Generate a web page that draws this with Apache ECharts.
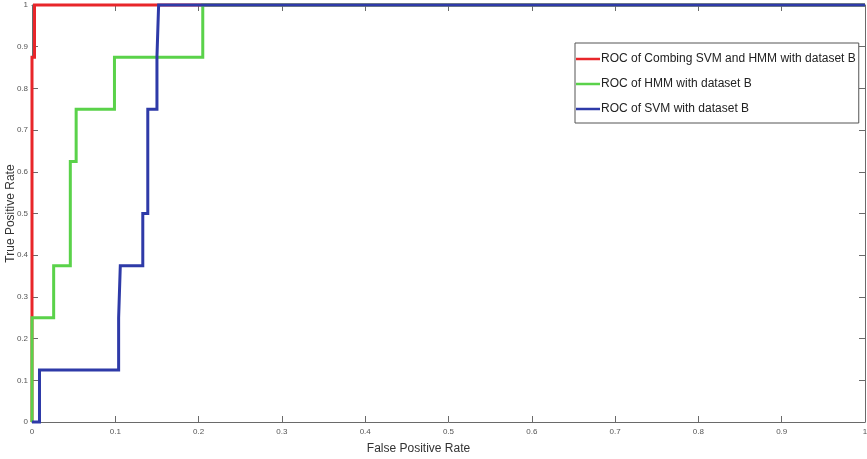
<!DOCTYPE html>
<html>
<head>
<meta charset="utf-8">
<script src="https://cdn.jsdelivr.net/npm/echarts@6/dist/echarts.min.js"></script>
<style>
  html, body { margin: 0; padding: 0; background: #fff; }
  #chart { width: 867px; height: 459px; }
</style>
</head>
<body>
<div id="chart"></div>
<script>
    // ROC curves (false positive rate, true positive rate)
    const seriesNames = [
        'ROC of Combing SVM and HMM with dataset B',
        'ROC of HMM with dataset B',
        'ROC of SVM with dataset B'
    ];
    const fprCombined = [0, 0, 0.003, 0.003, 1];
    const tprCombined = [0, 0.875, 0.875, 1, 1];
    const fprHMM = [0, 0, 0.026, 0.026, 0.046, 0.046, 0.053, 0.053, 0.099, 0.099, 0.205, 0.205, 1];
    const tprHMM = [0, 0.25, 0.25, 0.375, 0.375, 0.625, 0.625, 0.75, 0.75, 0.875, 0.875, 1, 1];
    const fprSVM = [0, 0.009, 0.009, 0.104, 0.104, 0.106, 0.106, 0.133, 0.133, 0.139, 0.139, 0.150, 0.150, 0.152, 0.152, 1];
    const tprSVM = [0, 0, 0.125, 0.125, 0.25, 0.25, 0.375, 0.375, 0.5, 0.5, 0.75, 0.75, 0.875, 0.875, 1, 1];

    const colors = ['#e8262a', '#5ad24a', '#2e3aa8'];

    function pairs(xs, ys) {
        return xs.map((x, i) => [x, ys[i]]);
    }

    const chart = echarts.init(document.getElementById('chart'));

    // common axis look: gray line, short ticks pointing inward
    let baseAxis = {
        type: 'value',
        min: 0,
        max: 1,
        interval: 0.1,
        axisLine: { show: true, onZero: false, lineStyle: { color: '#6a6a6a', width: 1 } },
        axisTick: { show: true, inside: true, length: 6, lineStyle: { color: '#6a6a6a' } },
        splitLine: { show: false },
        axisLabel: { color: '#555', fontSize: 8, fontFamily: 'Liberation Sans' }
    };

    let options = {
        animation: false,
        backgroundColor: '#fff',
        color: colors,
        grid: { left: 32, right: 2, top: 5, bottom: 37, containLabel: false, outerBoundsMode: 'none' },
        legend: {
            orient: 'vertical',
            left: 575,
            top: 43,
            icon: 'rect',
            itemWidth: 24,
            itemHeight: 2.5,
            itemGap: 13,
            padding: [10, 3, 8, 1],
            borderColor: '#555',
            borderWidth: 1,
            backgroundColor: '#fff',
            textStyle: { color: '#222', fontSize: 12, fontFamily: 'Liberation Sans', padding: [0, 0, 0, -4] },
            data: seriesNames
        },
        xAxis: [
            Object.assign({}, baseAxis, {
                position: 'bottom',
                name: 'False Positive Rate',
                nameLocation: 'middle',
                nameGap: 21,
                nameMoveOverlap: false,
                nameTextStyle: { color: '#333', fontSize: 12, fontFamily: 'Liberation Sans', padding: [0, 60, 0, 0] },
                axisLabel: { color: '#555', fontSize: 8, fontFamily: 'Liberation Sans', margin: 6 }
            }),
            Object.assign({}, baseAxis, {
                position: 'top',
                axisLabel: { show: false }
            })
        ],
        yAxis: [
            Object.assign({}, baseAxis, {
                position: 'left',
                name: 'True Positive Rate',
                nameLocation: 'middle',
                nameGap: 15,
                nameMoveOverlap: false,
                nameRotate: 90,
                nameTextStyle: { color: '#333', fontSize: 12, fontFamily: 'Liberation Sans' },
                axisLabel: { color: '#555', fontSize: 8, fontFamily: 'Liberation Sans', margin: 4 }
            }),
            Object.assign({}, baseAxis, {
                position: 'right',
                axisLabel: { show: false }
            })
        ],
        series: []
    };

    let allData = [
        pairs(fprCombined, tprCombined),
        pairs(fprHMM, tprHMM),
        pairs(fprSVM, tprSVM)
    ];

    allData.forEach((d, i) => {
        options.series.push({
            name: seriesNames[i],
            type: 'line',
            xAxisIndex: 0,
            yAxisIndex: 0,
            showSymbol: false,
            symbol: 'none',
            clip: false,
            lineStyle: { color: colors[i], width: 3, join: 'miter' },
            itemStyle: { color: colors[i] },
            data: d
        });
    });

    chart.setOption(options);
</script>
</body>
</html>
